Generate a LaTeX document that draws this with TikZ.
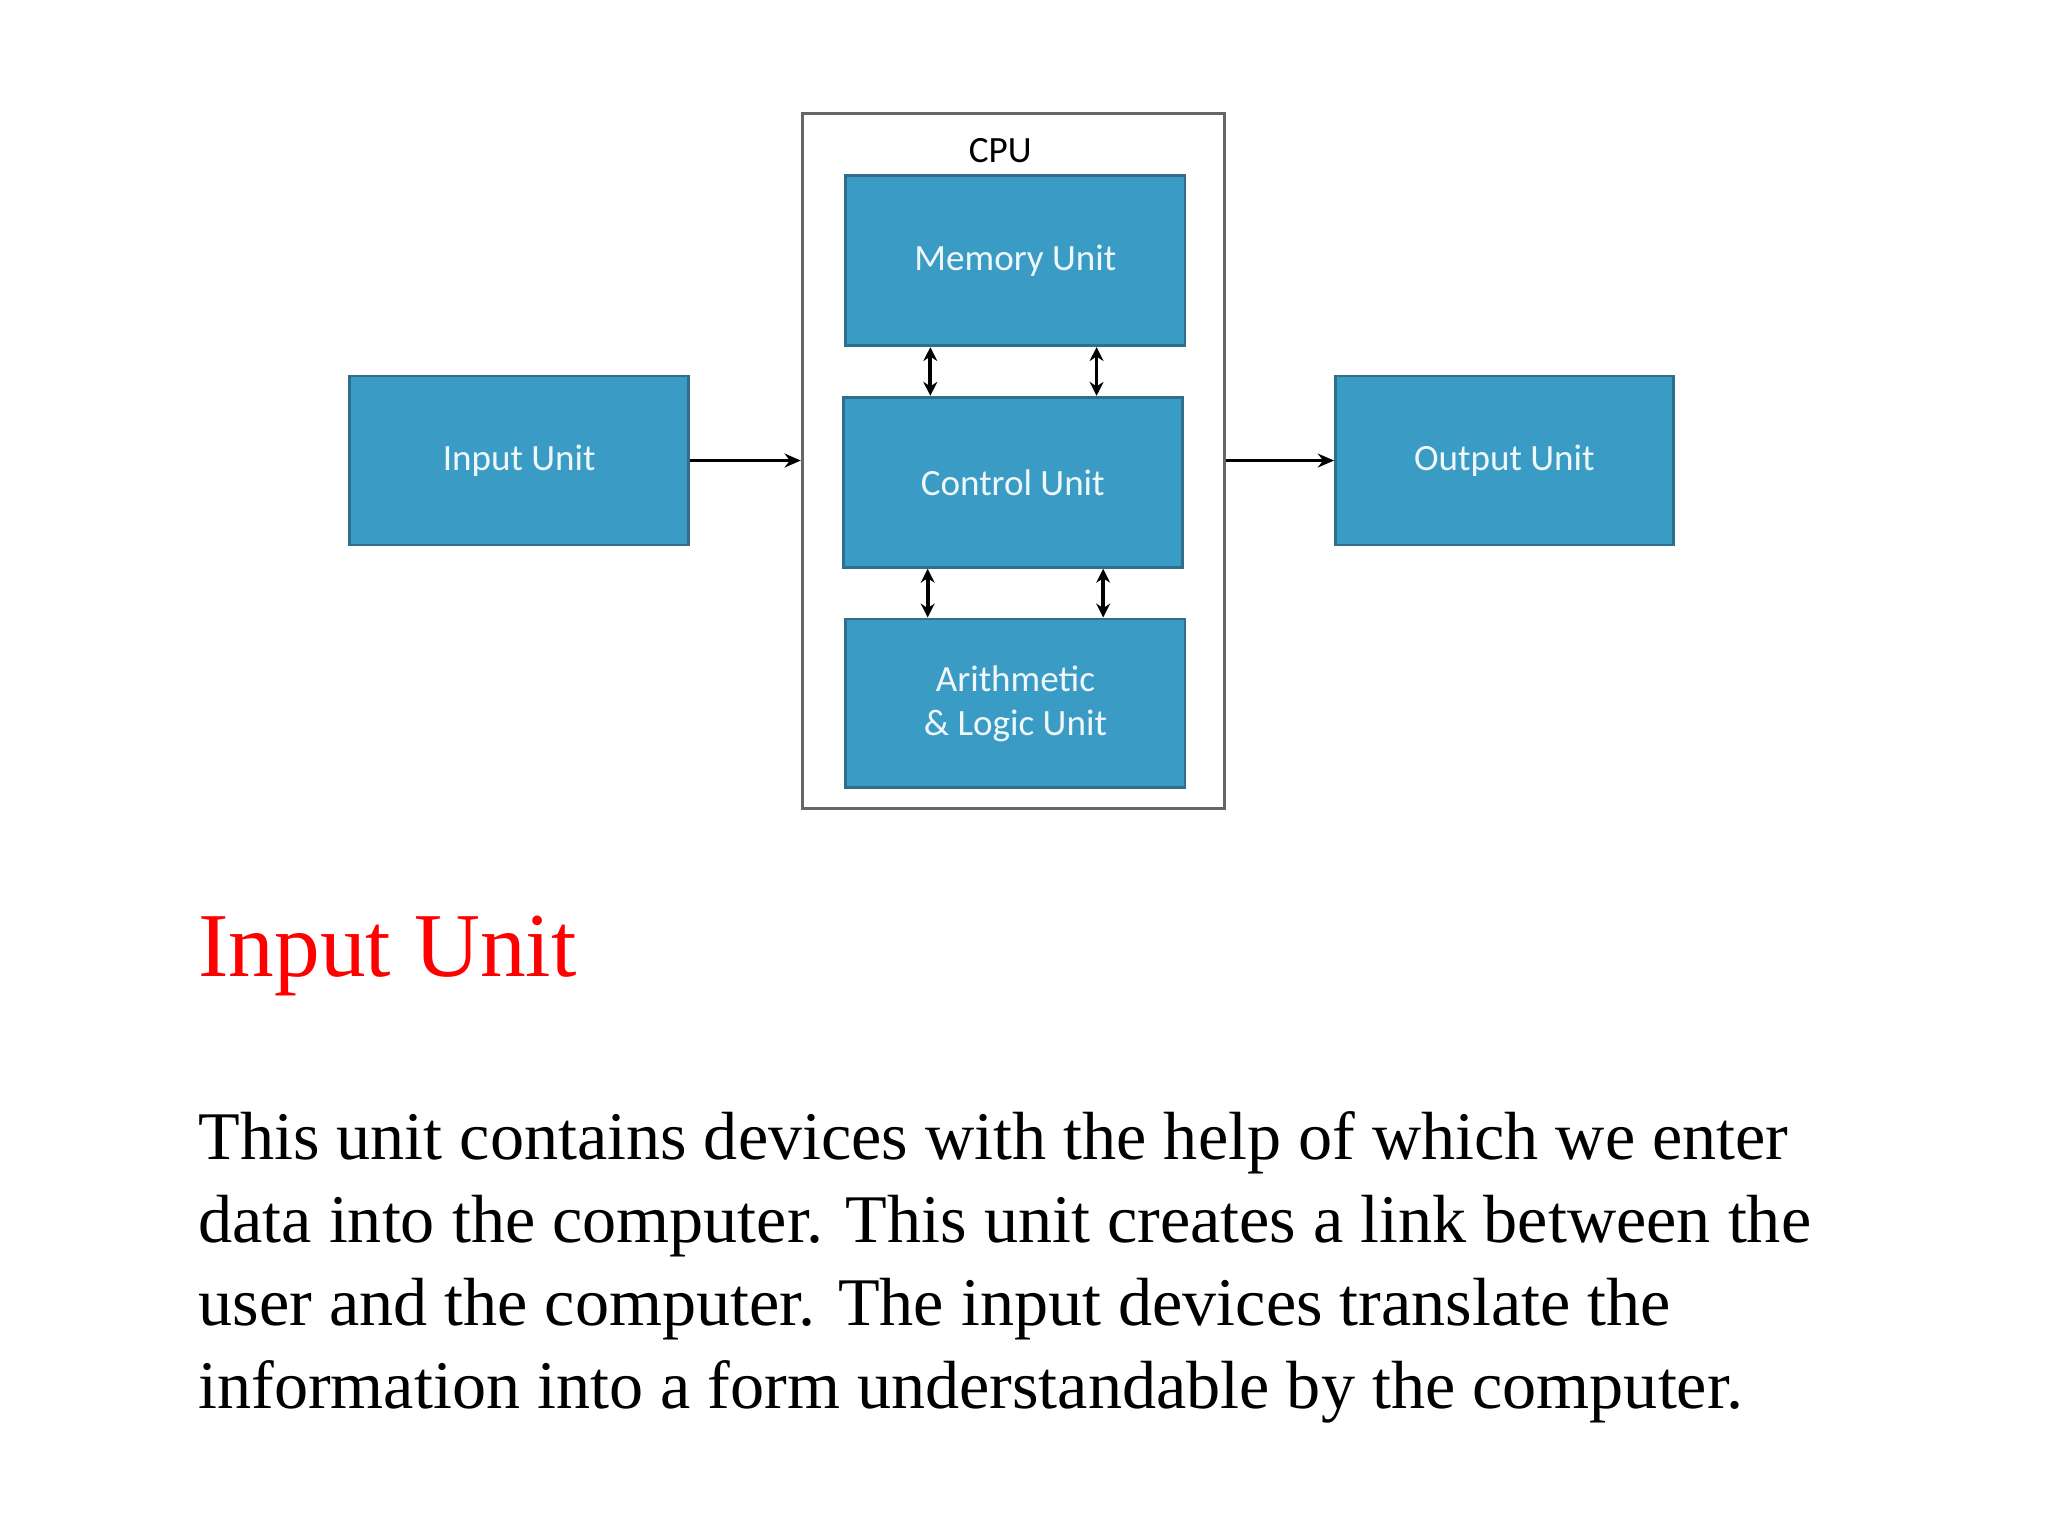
\documentclass[tikz,border=0pt]{standalone}
\usepackage{fontspec}
\setmainfont{Liberation Serif}
\newfontfamily\boxfont{Carlito}
\usetikzlibrary{arrows.meta}
\definecolor{boxblue}{HTML}{3A9CC4}
\definecolor{boxedge}{HTML}{2F6F8C}
\begin{document}
\begin{tikzpicture}[x=0.02cm,y=-0.02cm,
  unit/.style={draw=boxedge,line width=1.2pt,fill=boxblue,text=white!92!boxblue,font=\boxfont\fontsize{16}{19}\selectfont,align=center,inner sep=0pt},
  conn/.style={-{Stealth[length=7pt,width=6pt]},line width=1.1pt},
  dbl/.style={{Stealth[length=6pt,width=6pt]}-{Stealth[length=6pt,width=6pt]},line width=1.6pt}]
\useasboundingbox (0,0) rectangle (1552,1164);
\node[draw=gray!80!black,line width=1.3pt,minimum width=320*0.02cm,minimum height=527*0.02cm,inner sep=0pt] (cpu) at (768,349.5) {};
\node[font=\boxfont\fontsize{16}{19}\selectfont] (cpul) at (758,114) {CPU};
\node[unit,minimum width=257*0.02cm,minimum height=129*0.02cm] (mem) at (769.5,197.5) {Memory Unit};
\node[unit,minimum width=257*0.02cm,minimum height=129*0.02cm] (ctl) at (767.5,365.5) {Control Unit};
\node[unit,minimum width=257*0.02cm,minimum height=128*0.02cm] (alu) at (769.5,533) {Arithmetic\\\& Logic Unit};
\node[unit,minimum width=257*0.02cm,minimum height=128*0.02cm] (in) at (393.5,349) {Input Unit};
\node[unit,minimum width=256*0.02cm,minimum height=128*0.02cm] (out) at (1140,349) {Output Unit};
\draw[conn] (in.east) -- (in.east -| cpu.west);
\draw[conn] (cpu.east |- out.west) -- (out.west);
\draw[dbl] (mem.south -| 705,0) -- (ctl.north -| 705,0);
\draw[dbl] (mem.south -| 831,0) -- (ctl.north -| 831,0);
\draw[dbl] (ctl.south -| 703,0) -- (alu.north -| 703,0);
\draw[dbl] (ctl.south -| 836,0) -- (alu.north -| 836,0);
\node[anchor=base west,inner sep=0pt,text=red,font=\fontsize{39.4}{45}\selectfont] (head) at (150,740) {Input Unit};
\node[anchor=base west,inner sep=0pt,align=left,font=\fontsize{29.4}{35.7}\selectfont] (body) at (150,1067) {This unit contains devices with the help of which we enter\\data into the computer. This unit creates a link between the\\user and the computer. The input devices translate the\\information into a form understandable by the computer.};
\end{tikzpicture}
\end{document}
